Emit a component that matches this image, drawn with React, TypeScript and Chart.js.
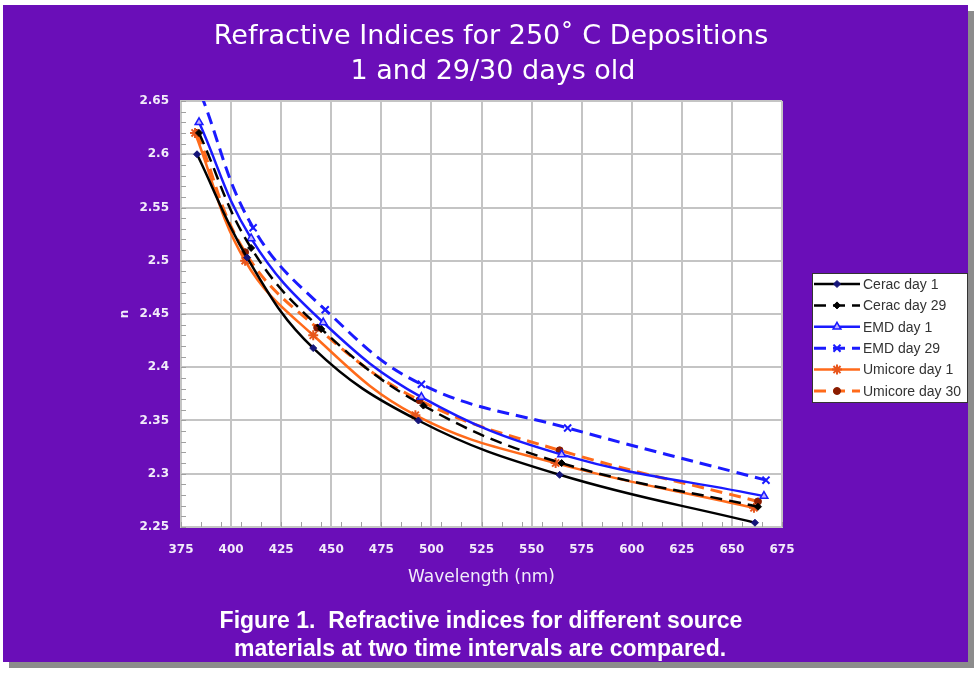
import React, { useEffect, useRef } from 'react';
import { Chart, registerables } from 'chart.js';
import { drawPoint } from 'chart.js/helpers';

Chart.register(...registerables);

const titleLines = ['Refractive Indices for 250\u02DA C Depositions', '1 and 29/30 days old'];
const captionLines = ['Figure 1.  Refractive indices for different source', 'materials at two time intervals are compared.'];
const xAxisTitle = 'Wavelength (nm)';
const yAxisTitle = 'n';

const seriesNames = ['Cerac day 1', 'Cerac day 29', 'EMD day 1', 'EMD day 29', 'Umicore day 1', 'Umicore day 30'];

const ceracDay1Wavelength = [383, 408, 441, 493.5, 564, 661.5];
const ceracDay1Index = [2.6, 2.503, 2.418, 2.35, 2.299, 2.254];
const ceracDay29Wavelength = [384, 410, 445, 496, 565, 663];
const ceracDay29Index = [2.62, 2.512, 2.436, 2.364, 2.31, 2.269];
const emdDay1Wavelength = [384, 410, 446, 495, 565, 666];
const emdDay1Index = [2.63, 2.521, 2.442, 2.372, 2.318, 2.279];
const emdDay29Wavelength = [385, 411, 447, 495, 568, 667];
const emdDay29Index = [2.656, 2.531, 2.454, 2.384, 2.343, 2.294];
const umicoreDay1Wavelength = [382, 407, 441, 492, 562, 661];
const umicoreDay1Index = [2.62, 2.5, 2.43, 2.355, 2.31, 2.268];
const umicoreDay30Wavelength = [383, 407, 443, 494, 564, 663];
const umicoreDay30Index = [2.62, 2.508, 2.437, 2.369, 2.322, 2.274];

const xMin = 375, xMax = 675, xStep = 25, xMinorStep = 10;
const yMin = 2.25, yMax = 2.65, yStep = 0.05, yMinorStep = 0.01;

const PURPLE = '#6a0eb8';
const BLUE = '#1a1aff';
const ORANGE = '#ff6a1a';

function pts(xs: number[], ys: number[]) {
  return xs.map((x, i) => ({ x, y: ys[i] }));
}

const backgroundPlugin = {
  id: 'bg',
  beforeDraw(chart: any) {
    const { ctx, chartArea } = chart;
    ctx.save();
    ctx.fillStyle = '#ffffff';
    ctx.fillRect(0, 0, 980, 675);
    ctx.fillStyle = '#8c8c8c';
    ctx.fillRect(9, 11, 965, 657);
    ctx.fillStyle = PURPLE;
    ctx.fillRect(3, 5, 965, 657);
    ctx.fillStyle = '#ffffff';
    ctx.fillRect(chartArea.left, chartArea.top, chartArea.right - chartArea.left, chartArea.bottom - chartArea.top);
    ctx.restore();
  },
  beforeDatasetsDraw(chart: any) {
    const { ctx, chartArea, scales } = chart;
    ctx.save();
    ctx.strokeStyle = '#a0a0a0';
    ctx.lineWidth = 1;
    for (let v = xMin; v <= xMax + 1e-9; v += xMinorStep) {
      const px = Math.round(scales.x.getPixelForValue(v)) + 0.5;
      ctx.beginPath();
      ctx.moveTo(px, chartArea.bottom);
      ctx.lineTo(px, chartArea.bottom - 5);
      ctx.stroke();
    }
    for (let k = 0; k <= Math.round((yMax - yMin) / yMinorStep); k++) {
      const py = Math.round(scales.y.getPixelForValue(yMin + k * yMinorStep)) + 0.5;
      ctx.beginPath();
      ctx.moveTo(chartArea.left, py);
      ctx.lineTo(chartArea.left + 5, py);
      ctx.stroke();
    }
    ctx.restore();
  },
  afterDraw(chart: any) {
    const { ctx } = chart;
    ctx.save();
    ctx.fillStyle = '#ffffff';
    ctx.textAlign = 'center';
    ctx.textBaseline = 'middle';
    ctx.font = '27px "DejaVu Sans"';
    ctx.fillText(titleLines[0], 491, 37);
    ctx.fillText(titleLines[1], 493, 72);
    ctx.font = 'bold 23px "Liberation Sans"';
    ctx.fillText(captionLines[0], 481, 622);
    ctx.fillText(captionLines[1], 480, 650);

    // legend
    const lx = 812, ly = 273, lw = 155, lh = 129;
    ctx.fillStyle = '#ffffff';
    ctx.fillRect(lx, ly, lw, lh);
    ctx.strokeStyle = '#333333';
    ctx.lineWidth = 1;
    ctx.strokeRect(lx + 0.5, ly + 0.5, lw, lh);
    ctx.font = '14px "Liberation Sans"';
    ctx.textAlign = 'left';
    chart.data.datasets.forEach((ds: any, i: number) => {
      const y = ly + 11 + i * 21.4;
      ctx.save();
      ctx.strokeStyle = ds.borderColor;
      ctx.lineWidth = ds.borderWidth;
      ctx.setLineDash(ds.borderDash || []);
      ctx.beginPath();
      ctx.moveTo(lx + 2, y);
      ctx.lineTo(lx + 48, y);
      ctx.stroke();
      ctx.setLineDash([]);
      ctx.fillStyle = ds.pointBackgroundColor;
      ctx.strokeStyle = ds.pointBorderColor;
      ctx.lineWidth = ds.pointBorderWidth;
      drawPoint(ctx, { pointStyle: ds.pointStyle, radius: ds.pointRadius, rotation: 0, borderWidth: ds.pointBorderWidth }, lx + 25, y);
      ctx.restore();
      ctx.fillStyle = '#333333';
      ctx.fillText(ds.label, lx + 51, y + 1);
    });
    ctx.restore();
  },
};

export default function App() {
  const ref = useRef<HTMLCanvasElement>(null);
  useEffect(() => {
    document.body.style.margin = '0';
    const chart = new Chart(ref.current!, {
      type: 'line',
      data: {
        datasets: [
          {
            label: seriesNames[0], data: pts(ceracDay1Wavelength, ceracDay1Index),
            borderColor: '#000000', borderWidth: 2.5, pointStyle: 'rectRot', pointRadius: 3.5,
            pointBackgroundColor: '#15157a', pointBorderColor: '#15157a', pointBorderWidth: 1,
          },
          {
            label: seriesNames[1], data: pts(ceracDay29Wavelength, ceracDay29Index),
            borderColor: '#000000', borderWidth: 2.5, borderDash: [12, 7], pointStyle: 'rectRot', pointRadius: 3.5,
            pointBackgroundColor: '#000000', pointBorderColor: '#000000', pointBorderWidth: 1,
          },
          {
            label: seriesNames[2], data: pts(emdDay1Wavelength, emdDay1Index),
            borderColor: BLUE, borderWidth: 2.5, pointStyle: 'triangle', pointRadius: 4.5,
            pointBackgroundColor: '#c0b0ff', pointBorderColor: BLUE, pointBorderWidth: 1.5,
          },
          {
            label: seriesNames[3], data: pts(emdDay29Wavelength, emdDay29Index),
            borderColor: BLUE, borderWidth: 3, borderDash: [12, 7], pointStyle: 'crossRot', pointRadius: 5,
            pointBackgroundColor: BLUE, pointBorderColor: BLUE, pointBorderWidth: 2,
          },
          {
            label: seriesNames[4], data: pts(umicoreDay1Wavelength, umicoreDay1Index),
            borderColor: ORANGE, borderWidth: 2.5, pointStyle: 'star', pointRadius: 5,
            pointBackgroundColor: '#e8561c', pointBorderColor: '#e8561c', pointBorderWidth: 2,
          },
          {
            label: seriesNames[5], data: pts(umicoreDay30Wavelength, umicoreDay30Index),
            borderColor: ORANGE, borderWidth: 3, borderDash: [12, 7], pointStyle: 'circle', pointRadius: 3.5,
            pointBackgroundColor: '#8a1c00', pointBorderColor: '#8a1c00', pointBorderWidth: 1,
          },
        ],
      },
      options: {
        animation: false,
        responsive: false,
        parsing: false as any,
        layout: { padding: { top: 101, left: 101, right: 198, bottom: 78 } },
        elements: { line: { tension: 0.4, fill: false } },
        plugins: { legend: { display: false }, title: { display: false }, tooltip: { enabled: false } },
        scales: {
          x: {
            type: 'linear', min: xMin, max: xMax,
            afterFit: (s: any) => { s.height = 70; },
            ticks: {
              stepSize: xStep, padding: 16, color: '#f2ecfa',
              font: { family: 'DejaVu Sans', size: 12, weight: 'bold' },
              callback: (v: any) => String(v),
            },
            grid: { color: '#c4c4c4', lineWidth: 2, drawTicks: false },
            border: { color: '#c4c4c4', width: 2 },
            title: {
              display: true, text: xAxisTitle, color: '#f2ecfa',
              font: { family: 'DejaVu Sans', size: 17 }, padding: { top: 0, bottom: 9 },
            },
          },
          y: {
            type: 'linear', min: yMin, max: yMax,
            afterFit: (s: any) => { s.width = 80; },
            ticks: {
              stepSize: yStep, padding: 12, color: '#f2ecfa',
              font: { family: 'DejaVu Sans', size: 12, weight: 'bold' },
              callback: (v: any) => String(Number(Number(v).toFixed(2))),
            },
            grid: { color: '#c4c4c4', lineWidth: 2, drawTicks: false },
            border: { color: '#c4c4c4', width: 2 },
            title: {
              display: true, text: yAxisTitle, color: '#f2ecfa',
              font: { family: 'DejaVu Sans', size: 12, weight: 'bold' }, padding: { top: 17, bottom: 0 },
            },
          },
        },
      },
      plugins: [backgroundPlugin],
    } as any);
    return () => chart.destroy();
  }, []);
  return (
    <div style={{ position: 'absolute', left: 0, top: 0, width: 980, height: 675 }}>
      <canvas ref={ref} width={980} height={675} />
    </div>
  );
}
